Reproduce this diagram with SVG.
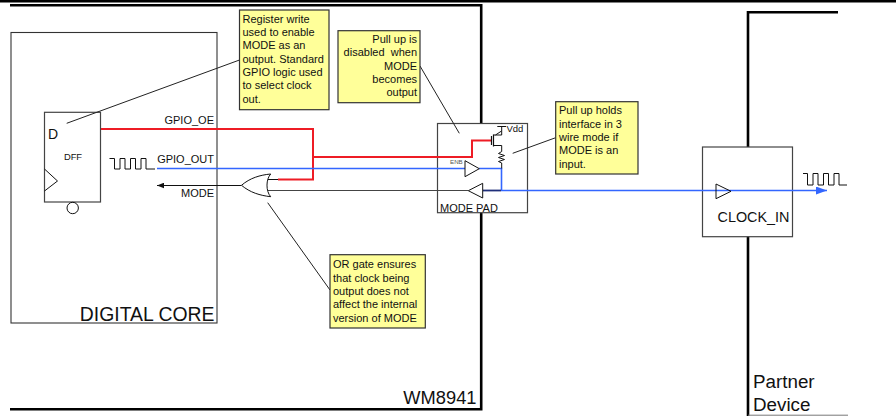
<svg xmlns="http://www.w3.org/2000/svg" width="896" height="416" viewBox="0 0 896 416">
<defs>
<marker id="ab" markerUnits="userSpaceOnUse" markerWidth="7" markerHeight="6" refX="7" refY="3" orient="auto"><path d="M0 0.200L7 3L0 5.800Z" fill="#111"/></marker>
<marker id="ah" markerUnits="userSpaceOnUse" markerWidth="11" markerHeight="8" refX="11" refY="4" orient="auto"><path d="M0 0L11 4L0 8Z" fill="#3366ff"/></marker>
</defs>
<style>
text{font-family:"Liberation Sans",Arial,sans-serif;fill:#111}
.t11{font-size:11px}
.n{font-size:11px}
.note{fill:#ffff99;stroke:#333;stroke-width:1.2}
.box{fill:#fff;stroke:#444;stroke-width:1.2}
.thick{fill:none;stroke:#000;stroke-width:2.6}
.w{fill:none;stroke:#111;stroke-width:1}
.lead{fill:none;stroke:#222;stroke-width:1}
.red{fill:none;stroke:#ee1c25;stroke-width:2}
.blue{fill:none;stroke:#3366ff;stroke-width:1.6}
</style>
<rect width="896" height="416" fill="#fff"/>
<g id="frames">
<rect x="0" y="0" width="896" height="2.500" fill="#000"/>
<path class="thick" d="M10 5.200H481.200V409.200H10"/>
<path class="thick" d="M838 12.200H748V416"/>
<path d="M748 415.200H848" fill="none" stroke="#777" stroke-width="1"/>
</g>
<g id="digital-core">
<rect x="11" y="32.500" width="206" height="290.500" fill="#fff" stroke="#333" stroke-width="1.100"/>
<text x="214.500" y="321" text-anchor="end" font-size="19.400">DIGITAL CORE</text>
</g>
<text id="wm8941-label" x="476.500" y="403.500" text-anchor="end" font-size="18.300">WM8941</text>
<g id="partner-label" font-size="18.800"><text x="753" y="388">Partner</text><text x="753" y="410.500">Device</text></g>
<g id="dff">
<rect class="box" x="44.500" y="112.300" width="56" height="89.700"/>
<path class="w" d="M44.500 169L57.500 181L44.500 191"/>
<circle class="w" cx="72.700" cy="208" r="5.700"/>
<text x="48" y="138.500" font-size="14">D</text>
<text x="73" y="160" text-anchor="middle" font-size="9.400">DFF</text>
</g>
<g id="mode-pad">
<rect class="box" x="437.500" y="123.500" width="90" height="89.200"/>
<text x="440" y="212" class="t11">MODE PAD</text>
<text x="450" y="164" font-size="6.200" style="fill:#555">ENB</text>
</g>
<g id="clock-in">
<rect class="box" x="702.500" y="147" width="90" height="89.700"/>
<text x="717.500" y="222" font-size="14.400">CLOCK_IN</text>
</g>
<g id="connectors">
<path class="red" d="M101 129H313V179.500H278"/>
<path class="red" d="M313 157H472V140.500H492"/>
<path class="blue" d="M157 168.500H465"/>
<path class="blue" d="M479 168.500H501.500V190.500"/>
<path class="blue" d="M501 190.500H827" marker-end="url(#ah)"/>
<path d="M483 190.500H501" fill="none" stroke="#1f2f7a" stroke-width="1.800"/>
<path d="M268 190.500H468" fill="none" stroke="#444" stroke-width="1.200"/>
<path d="M241.500 185.500H157" fill="none" stroke="#111" stroke-width="1" marker-end="url(#ab)"/>
<path d="M278 179.500H268" fill="none" stroke="#111" stroke-width="1"/>
<path class="lead" d="M239.500 60L66.700 123.300"/>
<path class="lead" d="M420 66L459.300 133.300"/>
<path class="lead" d="M555.700 137.700L512.700 153.300"/>
<path class="lead" d="M330 290L267.700 202.700"/>
</g>
<g id="or-gate">
<path d="M241.500 185.300C250 178 260 175 270.700 174C266 179 265.500 191 270.700 196.700C260 195.500 250 192.500 241.500 185.300Z" fill="#fff" stroke="#111" stroke-width="1"/>
</g>
<g id="buffers">
<path d="M465 160.700L479.300 168.700L465 176.700Z" fill="#fff" stroke="#111" stroke-width="1"/>
<path d="M482.700 183.300L468.300 190.700L482.700 198Z" fill="#fff" stroke="#111" stroke-width="1"/>
<path d="M716 184L731 191.300L716 198.700Z" fill="none" stroke="#111" stroke-width="1"/>
</g>
<g id="pull-up">
<path class="w" d="M497.300 126.500H506M501.700 126.500V135H493.500M493.500 145.500H501.700V151.500L498.500 153.500L504.500 155.500L498.500 157.500L504.500 159.500L498.500 161.500L501.700 163V168.500"/>
<path d="M493.500 134.500V146.500M491.500 136V145" fill="none" stroke="#111" stroke-width="1.200"/>
<path d="M501.500 131L495.500 135" fill="none" stroke="#111" stroke-width="1"/>
<text x="506.500" y="131.800" font-size="9.500">Vdd</text>
</g>
<g id="waves">
<path d="M109.500 158.500H114.500V169H120V158.500H125V169H130.500V158.500H135.500V169H141V158.500H146V169H155" fill="none" stroke="#111" stroke-width="1"/>
<path d="M803 173.500H807.500V185H813V173.500H818V185H823.500V173.500H828.500V185H834V173.500H839V185H847" fill="none" stroke="#111" stroke-width="1"/>
</g>
<g id="signal-labels" class="t11">
<text x="214" y="123.500" text-anchor="end">GPIO_OE</text>
<text x="214" y="163.300" text-anchor="end">GPIO_OUT</text>
<text x="214" y="197.300" text-anchor="end">MODE</text>
</g>
<g id="note-register">
<rect class="note" x="239.500" y="10" width="89.500" height="99.700"/>
<text class="n" x="242.500" y="22.700">Register write</text>
<text class="n" x="242.500" y="36">used to enable</text>
<text class="n" x="242.500" y="49">MODE as an</text>
<text class="n" x="242.500" y="62.500">output. Standard</text>
<text class="n" x="242.500" y="76">GPIO logic used</text>
<text class="n" x="242.500" y="89">to select clock</text>
<text class="n" x="242.500" y="103">out.</text>
</g>
<g id="note-disable" text-anchor="end">
<rect class="note" x="338" y="30.700" width="82" height="72"/>
<text class="n" x="417" y="42.700">Pull up is</text>
<text class="n" x="417" y="56">disabled&#160; when</text>
<text class="n" x="417" y="69.500">MODE</text>
<text class="n" x="417" y="83">becomes</text>
<text class="n" x="417" y="96">output</text>
</g>
<g id="note-holds">
<rect class="note" x="555.700" y="101.700" width="82.300" height="72.300"/>
<text class="n" x="559" y="114">Pull up holds</text>
<text class="n" x="559" y="127.500">interface in 3</text>
<text class="n" x="559" y="140.500">wire mode if</text>
<text class="n" x="559" y="154">MODE is an</text>
<text class="n" x="559" y="167.500">input.</text>
</g>
<g id="note-or">
<rect class="note" x="330" y="254.700" width="95.300" height="73.300"/>
<text class="n" x="333" y="268.300">OR gate ensures</text>
<text class="n" x="333" y="281.500">that clock being</text>
<text class="n" x="333" y="294.500">output does not</text>
<text class="n" x="333" y="308">affect the internal</text>
<text class="n" x="333" y="321.500">version of MODE</text>
</g>
</svg>
